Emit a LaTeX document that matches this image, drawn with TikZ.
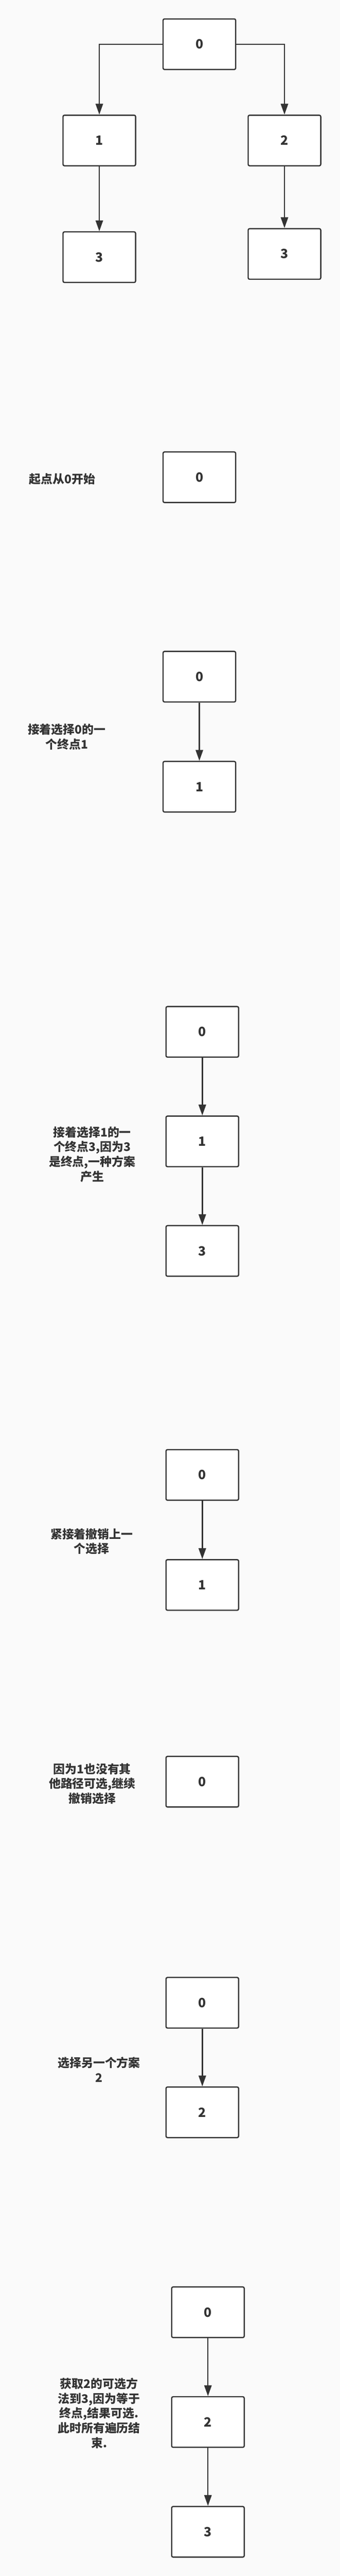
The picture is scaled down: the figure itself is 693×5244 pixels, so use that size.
\documentclass[tikz,border=0pt]{standalone}
\usepackage{fontspec}
\setmainfont{Noto Sans CJK SC}
\usetikzlibrary{positioning}
\usetikzlibrary{arrows.meta}
\definecolor{ink}{HTML}{333333}
\definecolor{paper}{HTML}{FAFAFA}
\tikzset{
    mynode/.style = {rectangle, rounded corners=3pt, line width=2.5pt, draw=ink, fill=white, text=ink,
                     minimum width=148pt, minimum height=103pt, inner sep=0pt,
                     font=\fontsize{26}{30}\selectfont\bfseries},
    note/.style = {align=center, text=ink, inner sep=0pt, font=\fontsize{24}{30}\selectfont\bfseries},
    edgen/.style = {-{Triangle[length=22pt,width=15pt]}, line width=2.5pt, draw=ink},
}

\begin{document}
\begin{tikzpicture}[x=1pt, y=-1pt]
  \fill[paper] (0,0) rectangle (693,5244);
  \useasboundingbox (0,0) rectangle (693,5244);

  % whole tree
  \node[mynode] at (406.5,  90.0) (t0)  {0};
  \node[mynode] at (202.5, 286.0) (t1)  {1};
  \node[mynode] at (580.0, 286.0) (t2)  {2};
  \node[mynode] at (202.5, 523.5) (t3a) {3};
  \node[mynode] at (580.0, 517.0) (t3b) {3};
  \draw[edgen] (t0.west) -| (t1.north);
  \draw[edgen] (t0.east) -| (t2.north);
  \draw[edgen] (t1) -- (t3a);
  \draw[edgen] (t2) -- (t3b);

  % step 1
  \node[note] at (127, 975) (n1) {起点从0开始};
  \node[mynode] at (406.5, 971.5) (s1a) {0};

  % step 2
  \node[note] at (136, 1500) (n2) {接着选择0的一\\个终点1};
  \node[mynode] at (406.5, 1377.5) (s2a) {0};
  \node[mynode] at (406.5, 1601.5) (s2b) {1};
  \draw[edgen] (s2a) -- (s2b);

  % step 3
  \node[note] at (188, 2350) (n3) {接着选择1的一\\个终点3,因为3\\是终点,一种方案\\产生};
  \node[mynode] at (412.5, 2100.5) (s3a) {0};
  \node[mynode] at (412.5, 2323.5) (s3b) {1};
  \node[mynode] at (412.5, 2546.5) (s3c) {3};
  \draw[edgen] (s3a) -- (s3b);
  \draw[edgen] (s3b) -- (s3c);

  % step 4
  \node[note] at (187, 3138) (n4) {紧接着撤销上一\\个选择};
  \node[mynode] at (412.5, 3002.5) (s4a) {0};
  \node[mynode] at (412.5, 3226.5) (s4b) {1};
  \draw[edgen] (s4a) -- (s4b);

  % step 5
  \node[note] at (188, 3631) (n5) {因为1也没有其\\他路径可选,继续\\撤销选择};
  \node[mynode] at (412.5, 3627) (s5a) {0};

  % step 6
  \node[note] at (202, 4213) (n6) {选择另一个方案\\2};
  \node[mynode] at (412.5, 4077) (s6a) {0};
  \node[mynode] at (412.5, 4300) (s6b) {2};
  \draw[edgen] (s6a) -- (s6b);

  % step 7
  \node[note] at (202, 4912.5) (n7) {获取2的可选方\\法到3,因为等于\\终点,结果可选.\\此时所有遍历结\\束.};
  \node[mynode] at (424, 4707) (s7a) {0};
  \node[mynode] at (424, 4930.5) (s7b) {2};
  \node[mynode] at (424, 5154) (s7c) {3};
  \draw[edgen] (s7a) -- (s7b);
  \draw[edgen] (s7b) -- (s7c);
\end{tikzpicture}
\end{document}
